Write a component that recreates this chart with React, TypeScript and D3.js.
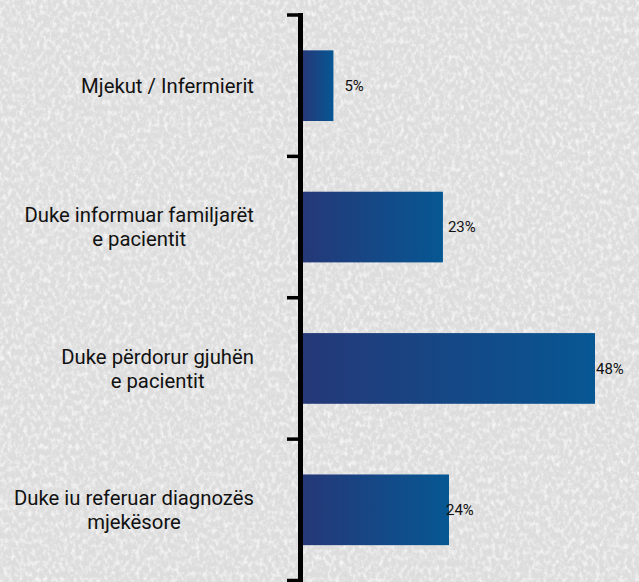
import React, { useEffect, useRef } from "react";
import * as d3 from "d3";

const categories: string[][] = [
  ["Mjekut / Infermierit"],
  ["Duke informuar familjarët", "e pacientit"],
  ["Duke përdorur gjuhën", "e pacientit"],
  ["Duke iu referuar diagnozës", "mjekësore"],
];
const values: number[] = [5, 23, 48, 24];
const valueLabels: string[] = ["5%", "23%", "48%", "24%"];
// label nudges (px) to the right of bar ends, as placed in the original
const labelNudge: number[] = [11, 5, 1, -3];

const W = 639;
const H = 582;

export default function App() {
  const ref = useRef<SVGSVGElement | null>(null);

  useEffect(() => {
    document.body.style.margin = "0";
    const svg = d3.select(ref.current);
    svg.selectAll("*").remove();

    const defs = svg.append("defs");
    const grad = defs
      .append("linearGradient")
      .attr("id", "barGrad")
      .attr("x1", "0")
      .attr("x2", "1")
      .attr("y1", "0")
      .attr("y2", "0");
    grad.append("stop").attr("offset", "0%").attr("stop-color", "#253878");
    grad.append("stop").attr("offset", "100%").attr("stop-color", "#065793");

    const filt = defs
      .append("filter")
      .attr("id", "stone")
      .attr("x", "0")
      .attr("y", "0")
      .attr("width", "100%")
      .attr("height", "100%");
    filt
      .append("feTurbulence")
      .attr("type", "fractalNoise")
      .attr("baseFrequency", "0.25 0.18")
      .attr("numOctaves", "4")
      .attr("seed", "7")
      .attr("result", "noise");
    filt
      .append("feColorMatrix")
      .attr("in", "noise")
      .attr("type", "matrix")
      .attr("values", "0 0 0 0 0.94  0 0 0 0 0.94  0 0 0 0 0.94  2.2 0 0 0 -0.95")
      .attr("result", "light");
    filt
      .append("feColorMatrix")
      .attr("in", "noise")
      .attr("type", "matrix")
      .attr("values", "0 0 0 0 0.7  0 0 0 0 0.7  0 0 0 0 0.7  0 -2.0 0 0 0.75")
      .attr("result", "dark");
    const merge = filt.append("feMerge");
    merge.append("feMergeNode").attr("in", "SourceGraphic");
    merge.append("feMergeNode").attr("in", "light");
    merge.append("feMergeNode").attr("in", "dark");

    svg
      .append("rect")
      .attr("width", W)
      .attr("height", H)
      .attr("fill", "#dddddd")
      .attr("filter", "url(#stone)");

    const axisX = 300.5;
    const y = d3
      .scaleBand<number>()
      .domain(d3.range(categories.length))
      .range([15, 580.5])
      .paddingInner(0.5)
      .paddingOuter(0.25);
    const x = d3.scaleLinear().domain([0, 48]).range([303, 595]);

    svg
      .selectAll("rect.bar")
      .data(values)
      .join("rect")
      .attr("class", "bar")
      .attr("x", x(0))
      .attr("y", (_, i) => y(i)!)
      .attr("width", (d) => x(d) - x(0))
      .attr("height", y.bandwidth())
      .attr("fill", "url(#barGrad)");

    const step = y.step();
    const tickYs = d3.range(categories.length + 1).map((i) => 15 + i * step);
    svg
      .append("line")
      .attr("x1", axisX)
      .attr("x2", axisX)
      .attr("y1", 13)
      .attr("y2", H + 5)
      .attr("stroke", "#000")
      .attr("stroke-width", 5);
    svg
      .selectAll("line.tick")
      .data(tickYs)
      .join("line")
      .attr("class", "tick")
      .attr("x1", 287)
      .attr("x2", axisX)
      .attr("y1", (d) => d)
      .attr("y2", (d) => d)
      .attr("stroke", "#000")
      .attr("stroke-width", 3.5);

    svg
      .selectAll("text.val")
      .data(values)
      .join("text")
      .attr("class", "val")
      .attr("x", (d, i) => x(d) + labelNudge[i])
      .attr("y", (_, i) => y(i)! + y.bandwidth() / 2)
      .attr("dy", "0.36em")
      .attr("font-family", "Roboto, sans-serif")
      .attr("font-size", 15)
      .attr("fill", "#111")
      .text((_, i) => valueLabels[i]);

    const rightEdge = 254;
    const lineH = 24;
    categories.forEach((lines, i) => {
      const cy = y(i)! + y.bandwidth() / 2;
      const g = svg.append("g");
      const texts = lines.map((l, j) =>
        g
          .append("text")
          .attr("font-family", "Roboto, sans-serif")
          .attr("font-size", 20.3)
          .attr("fill", "#111")
          .attr("text-anchor", "middle")
          .attr("y", cy + (j - (lines.length - 1) / 2) * lineH)
          .attr("dy", "0.36em")
          .text(l)
      );
      const maxW =
        d3.max(texts, (t) => (t.node() as SVGTextElement).getComputedTextLength()) || 0;
      texts.forEach((t) => t.attr("x", rightEdge - maxW / 2));
    });
  }, []);

  return <svg ref={ref} width={W} height={H} style={{ display: "block" }} />;
}
